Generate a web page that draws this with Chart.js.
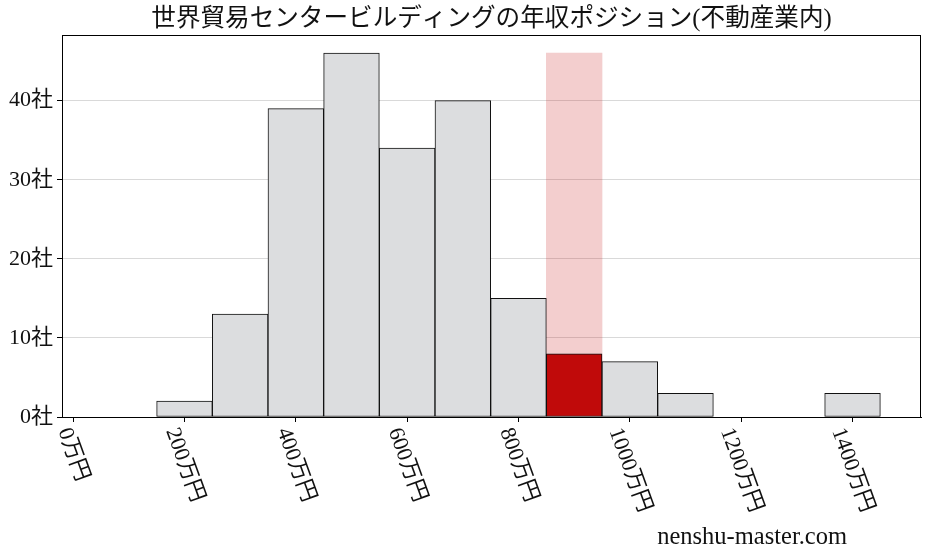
<!DOCTYPE html>
<html><head><meta charset="utf-8">
<script src="https://cdn.jsdelivr.net/npm/chart.js@4.4.1/dist/chart.umd.min.js"></script>
<style>html,body{margin:0;padding:0;background:#fff;}#wrap{width:927px;height:557px;position:relative}</style>
</head><body><div id="wrap"><canvas id="c" width="927" height="557"></canvas></div>
<script>
const binCenters = [200, 300, 400, 500, 600, 700, 800, 900, 1000, 1100, 1400];
const companyCounts = [2, 13, 39, 46, 34, 40, 15, 8, 7, 3, 3];
const highlightBin = [900];
const highlightHeight = [46];
const xTickValues = [0, 200, 400, 600, 800, 1000, 1200, 1400];
const xTickLabels = ['0万円', '200万円', '400万円', '600万円', '800万円', '1000万円', '1200万円', '1400万円'];
const yTickValues = [0, 10, 20, 30, 40];
const yTickLabels = ['0社', '10社', '20社', '30社', '40社'];
const titleText = '世界貿易センタービルディングの年収ポジション(不動産業内)';
const watermarkText = 'nenshu-master.com';

const FONT = "'Liberation Serif','Noto Sans CJK JP',serif";
const barColors = binCenters.map(v => v === highlightBin[0] ? '#c00a0a' : '#dcdddf');

const overlay = {
  id: 'overlay',
  afterDatasetsDraw(chart) {
    const ctx = chart.ctx, ca = chart.chartArea;
    ctx.save();
    ctx.strokeStyle = '#000';
    ctx.lineWidth = 1;
    ctx.strokeRect(Math.round(ca.left) + 0.5, Math.round(ca.top) + 0.5,
      Math.round(ca.right) - Math.round(ca.left) - 1, Math.round(ca.bottom) - Math.round(ca.top));
    ctx.restore();
  },
  afterDraw(chart) {
    const ctx = chart.ctx, ca = chart.chartArea, xs = chart.scales.x;
    ctx.save();
    ctx.fillStyle = '#111';
    ctx.font = '24.6px ' + FONT;
    ctx.textAlign = 'center';
    ctx.textBaseline = 'middle';
    ctx.fillText(titleText, (ca.left + ca.right) / 2, 20);
    const fh = 22;
    ctx.font = fh + 'px ' + FONT;
    const th = 70 * Math.PI / 180;
    xTickValues.forEach((v, i) => {
      const px = xs.getPixelForValue(v);
      const w = ctx.measureText(xTickLabels[i]).width;
      const H = w * Math.sin(th) + fh * Math.cos(th);
      const top = ca.bottom + 8;
      ctx.save();
      ctx.translate(px, top + H / 2);
      ctx.rotate(th);
      ctx.textAlign = 'center';
      ctx.textBaseline = 'middle';
      ctx.fillText(xTickLabels[i], 0, 0);
      ctx.restore();
    });
    ctx.font = '24.5px ' + FONT;
    ctx.textAlign = 'right';
    ctx.textBaseline = 'alphabetic';
    ctx.fillText(watermarkText, 847, 544);
    ctx.restore();
  }
};

new Chart(document.getElementById('c'), {
  type: 'bar',
  data: {
    datasets: [
      {
        data: binCenters.map((x, i) => ({ x: x, y: companyCounts[i] })),
        backgroundColor: barColors,
        borderColor: '#111',
        borderWidth: 1,
        borderSkipped: false,
        barPercentage: 1,
        categoryPercentage: 1,
        grouped: false,
        order: 1
      },
      {
        data: highlightBin.map((x, i) => ({ x: x, y: highlightHeight[i] })),
        backgroundColor: 'rgba(200,30,30,0.22)',
        borderWidth: 0,
        barPercentage: 1,
        categoryPercentage: 1,
        grouped: false,
        order: 2
      }
    ]
  },
  options: {
    responsive: false,
    animation: false,
    devicePixelRatio: 1,
    layout: { padding: { left: 0, right: 6, top: 35, bottom: 0 } },
    plugins: { legend: { display: false }, tooltip: { enabled: false }, title: { display: false } },
    scales: {
      x: {
        type: 'linear',
        offset: false,
        min: -20,
        max: 1523,
        afterBuildTicks: s => { s.ticks = xTickValues.map(v => ({ value: v })); },
        afterFit: s => { s.height = 140; },
        ticks: { display: false },
        grid: { offset: false, drawOnChartArea: false, drawTicks: true, tickLength: 5, tickColor: '#000' },
        border: { color: '#000', width: 1 }
      },
      y: {
        min: 0,
        max: 48.3,
        afterBuildTicks: s => { s.ticks = yTickValues.map(v => ({ value: v })); },
        afterFit: s => { s.width = 62; },
        ticks: {
          callback: (v) => yTickLabels[yTickValues.indexOf(v)],
          font: { size: 22, family: FONT },
          color: '#111',
          padding: 4
        },
        grid: { color: '#d9d9d9', lineWidth: 1, tickColor: '#000', tickLength: 5 },
        border: { color: '#000', width: 1 }
      }
    }
  },
  plugins: [overlay]
});
</script>
</body></html>
